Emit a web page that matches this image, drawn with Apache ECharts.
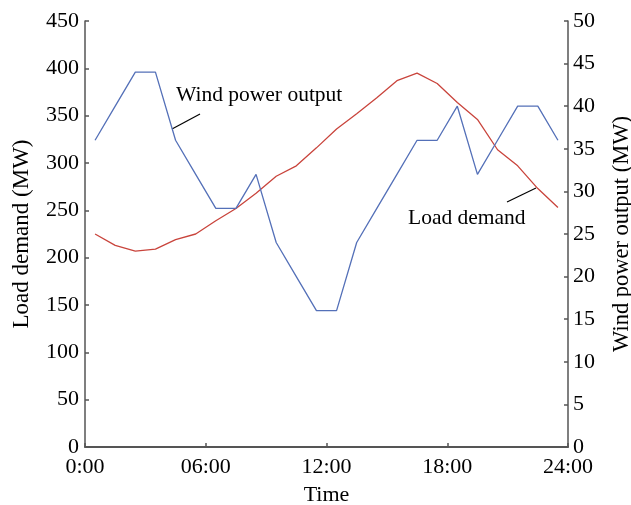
<!DOCTYPE html>
<html>
<head>
<meta charset="utf-8">
<script src="https://cdn.jsdelivr.net/npm/echarts@6/dist/echarts.min.js"></script>
<style>
  html, body { margin: 0; padding: 0; background: #fff; }
  #main { width: 631px; height: 505px; }
</style>
</head>
<body>
<div id="main"></div>
<script>
// hourly points, plotted at the middle of each hour
var hours = [0.5, 1.5, 2.5, 3.5, 4.5, 5.5, 6.5, 7.5, 8.5, 9.5, 10.5, 11.5,
  12.5, 13.5, 14.5, 15.5, 16.5, 17.5, 18.5, 19.5, 20.5, 21.5, 22.5, 23.5];
var loadDemand = [225, 213, 207, 209, 219, 225, 239, 252, 268, 286, 297, 316,
  336, 352, 369, 387, 395, 384, 364, 346, 314, 297, 273, 253];
var windOutput = [36, 40, 44, 44, 36, 32, 28, 28, 32, 24, 20, 16,
  16, 24, 28, 32, 36, 36, 40, 32, 36, 40, 40, 36];
var timeLabels = { 0: '0:00', 6: '06:00', 12: '12:00', 18: '18:00', 24: '24:00' };

var font = '"Liberation Serif", "DejaVu Serif", serif';
var axisGray = '#555555';

function pairs(ys) {
  return ys.map(function (v, i) { return [hours[i], v]; });
}

var chart = echarts.init(document.getElementById('main'), null, { renderer: 'canvas' });

var option = {
  animation: false,
  backgroundColor: '#fff',
  grid: { left: 85, right: 63, top: 21, bottom: 58, outerBoundsMode: 'none', containLabel: false },
  xAxis: {
    type: 'value',
    min: 0, max: 24, interval: 6,
    name: 'Time',
    nameLocation: 'middle',
    nameGap: 37,
    nameTextStyle: { fontFamily: font, fontSize: 22, color: '#000' },
    axisLine: { lineStyle: { color: axisGray, width: 2 } },
    axisTick: { inside: true, length: 4, lineStyle: { color: axisGray, width: 1.5 } },
    axisLabel: {
      fontFamily: font, fontSize: 22, color: '#000', margin: 9,
      formatter: function (v) { return timeLabels[v]; }
    },
    splitLine: { show: false }
  },
  yAxis: [{
    type: 'value',
    min: 0, max: 450, interval: 50,
    name: 'Load demand (MW)',
    nameLocation: 'middle',
    nameGap: 52,
    nameTextStyle: { fontFamily: font, fontSize: 23, color: '#000' },
    axisLine: { show: true, lineStyle: { color: axisGray, width: 1.5 } },
    axisTick: { show: true, inside: true, length: 4, lineStyle: { color: axisGray, width: 1.5 } },
    axisLabel: { fontFamily: font, fontSize: 22, color: '#000', margin: 6 },
    splitLine: { show: false }
  }, {
    type: 'value',
    min: 0, max: 50, interval: 5,
    position: 'right',
    name: 'Wind power output (MW)',
    nameLocation: 'middle',
    nameGap: 43,
    nameRotate: 90,
    nameTextStyle: { fontFamily: font, fontSize: 22.5, color: '#000' },
    axisLine: { show: true, lineStyle: { color: axisGray, width: 1.5 } },
    axisTick: { show: true, inside: true, length: 4, lineStyle: { color: axisGray, width: 1.5 } },
    axisLabel: { fontFamily: font, fontSize: 22, color: '#000', margin: 5 },
    splitLine: { show: false }
  }],
  series: [{
    name: 'Load demand',
    type: 'line',
    yAxisIndex: 0,
    data: pairs(loadDemand),
    symbol: 'none',
    lineStyle: { color: '#c9443c', width: 1.3 }
  }, {
    name: 'Wind power output',
    type: 'line',
    yAxisIndex: 1,
    data: pairs(windOutput),
    symbol: 'none',
    lineStyle: { color: '#5470b8', width: 1.3 }
  }],
  graphic: [
    // callout labels
    { type: 'text', left: 176, top: 84,
      style: { text: 'Wind power output', font: '21.5px ' + font, fill: '#000' } },
    { type: 'line', shape: { x1: 172, y1: 129, x2: 200, y2: 114 },
      style: { stroke: '#000', lineWidth: 1.2 } },
    { type: 'text', left: 408, top: 207,
      style: { text: 'Load demand', font: '21.5px ' + font, fill: '#000' } },
    { type: 'line', shape: { x1: 507, y1: 202, x2: 536, y2: 188 },
      style: { stroke: '#000', lineWidth: 1.2 } }
  ]
};

chart.setOption(option);
</script>
</body>
</html>
